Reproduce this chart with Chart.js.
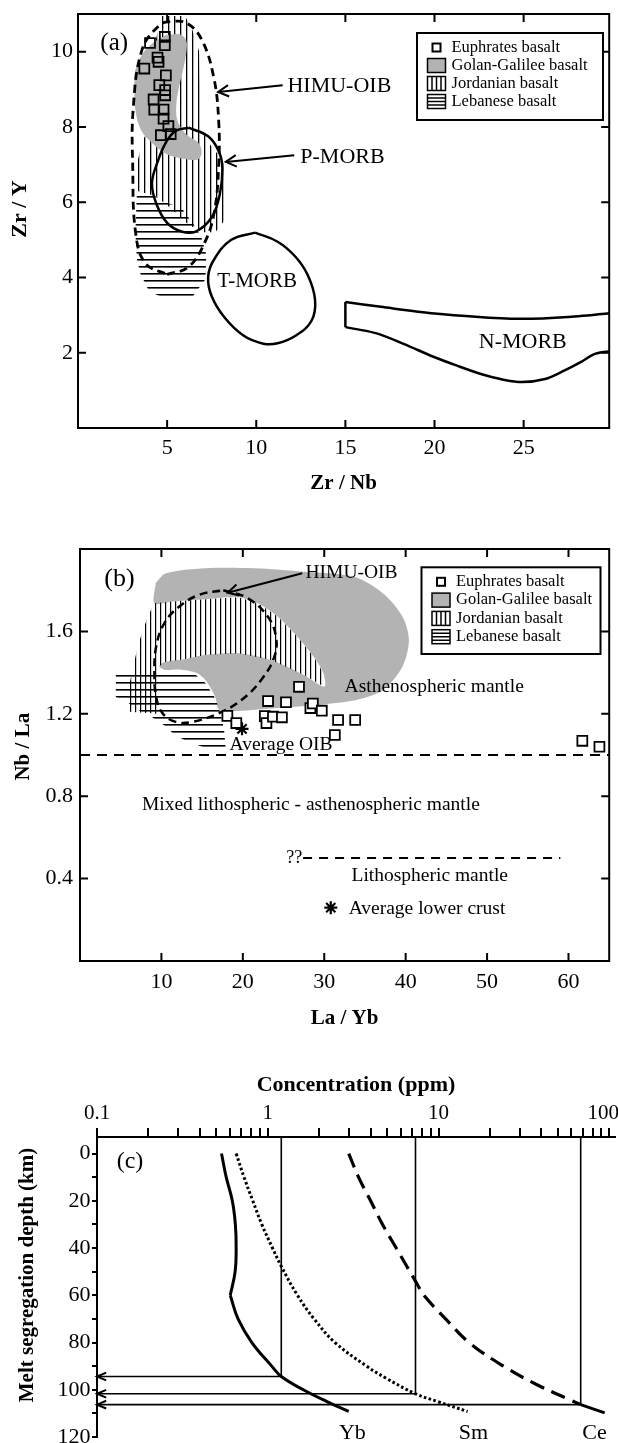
<!DOCTYPE html>
<html><head><meta charset="utf-8">
<script src="https://cdn.jsdelivr.net/npm/chart.js@4.4.1/dist/chart.umd.min.js"></script>
<style>
html,body{margin:0;padding:0;background:#fff}
body{width:618px;height:1443px;position:relative;overflow:hidden}
canvas{position:absolute;left:0}
</style></head><body>
<canvas id="ca" width="618" height="500" style="top:0"></canvas>
<canvas id="cb" width="618" height="535" style="top:500px"></canvas>
<canvas id="cc" width="618" height="403" style="top:1040px"></canvas>
<script>
// ================= DATA =================
// ---- Panel (a): Zr/Nb vs Zr/Y ----
const aXTicks = [5, 10, 15, 20, 25];
const aXTickLabels = ['5', '10', '15', '20', '25'];
const aYTicks = [2, 4, 6, 8, 10];
const aYTickLabels = ['2', '4', '6', '8', '10'];
const euphratesA = [[4.04,10.23],[4.87,10.39],[4.87,10.17],[4.46,9.84],[4.52,9.73],[3.72,9.55],[4.93,9.37],[4.56,9.11],[4.89,8.98],[4.89,8.84],[4.24,8.73],[4.28,8.46],[4.8,8.46],[4.8,8.22],[5.07,8.02],[4.65,7.78],[5.2,7.81]];
const golanA = [[4.93,10.44],[5.67,10.46],[6.07,10.3],[6.07,9.95],[5.89,9.51],[5.67,9.06],[5.52,8.62],[5.57,8.18],[6.04,7.82],[6.78,7.56],[6.93,7.29],[6.68,7.13],[5.85,7.16],[4.93,7.29],[4.18,7.56],[3.54,7.91],[3.22,8.44],[3.17,9.06],[3.22,9.51],[3.63,9.95],[4.18,10.22],[4.93,10.44]];
const jordanA = [[4.7,10.95],[6.0,10.95],[6.4,10.6],[6.8,10.0],[6.85,9.0],[6.9,8.0],[7.3,7.6],[7.8,7.3],[8.35,6.9],[8.4,6.2],[8.2,5.5],[7.7,5.2],[7.0,5.2],[6.2,5.4],[5.3,5.8],[4.4,6.15],[3.35,6.3],[3.25,6.9],[3.6,7.6],[4.0,8.0],[4.0,9.0],[4.2,10.0],[4.7,10.95]];
const lebanonA = [[3.3,6.2],[4.0,6.25],[4.9,6.0],[5.8,5.85],[6.5,5.4],[6.9,5.1],[7.2,4.6],[7.15,3.95],[6.6,3.6],[6.4,3.47],[4.9,3.45],[4.0,3.62],[3.5,4.1],[3.3,4.5],[3.22,5.2],[3.3,6.2]];
const himuA = [[5.0,4.08],[6.2,4.28],[7.08,4.9],[7.63,5.7],[7.89,6.94],[7.89,8.18],[7.61,9.33],[6.96,10.3],[6.13,10.75],[5.2,10.8],[4.56,10.7],[3.6,10.06],[3.1,8.5],[3.07,6.94],[3.24,5.16],[3.79,4.37],[5.0,4.08]];
const pmorbA = [[6.2,7.98],[7.3,7.75],[7.9,7.35],[8.1,6.9],[7.95,6.2],[7.5,5.6],[6.6,5.22],[5.8,5.22],[5.0,5.45],[4.4,5.95],[4.15,6.5],[4.45,7.05],[4.95,7.6],[5.5,7.9],[6.2,7.98]];
const tmorbA = [[9.94,5.19],[11.2,4.95],[12.2,4.55],[12.9,4.05],[13.3,3.4],[13.1,2.85],[12.2,2.45],[11.2,2.25],[10.4,2.24],[9.3,2.45],[8.2,2.95],[7.5,3.5],[7.3,4.0],[7.6,4.45],[8.6,5.0],[9.94,5.19]];
const nmorbTopA = [[15,3.35],[17,3.22],[20,3.04],[22.5,2.95],[24.9,2.9],[27.5,2.95],[30.5,3.08]];
const nmorbSideA = [[15,3.35],[15,2.68]];
const nmorbBottomA = [[15,2.68],[16.7,2.52],[18.3,2.23],[19.9,1.9],[21.3,1.65],[22.7,1.42],[23.7,1.3],[24.9,1.22],[26.2,1.3],[27.3,1.53],[28.2,1.75],[29,1.97],[29.9,2.04],[30.5,2.05]];
const arrowHimuA = [[11.48,9.11],[7.86,8.93]];
const arrowPmorbA = [[12.13,7.25],[8.29,7.07]];

// ---- Panel (b): La/Yb vs Nb/La ----
const bXTicks = [10, 20, 30, 40, 50, 60];
const bXTickLabels = ['10', '20', '30', '40', '50', '60'];
const bYTicks = [0.4, 0.8, 1.2, 1.6];
const bYTickLabels = ['0.4', '0.8', '1.2', '1.6'];
const euphratesB = [[18.1,1.19],[19.2,1.155],[22.7,1.189],[22.9,1.155],[23.1,1.262],[23.7,1.186],[24.8,1.183],[25.3,1.256],[26.9,1.331],[28.3,1.228],[28.6,1.25],[29.7,1.215],[31.3,1.097],[31.7,1.17],[33.8,1.17],[61.7,1.069],[63.8,1.04]];
const golanB = [[9.3,1.835],[10.56,1.882],[15.4,1.907],[21.45,1.907],[27.5,1.89],[33.56,1.866],[37.2,1.785],[39.6,1.672],[40.4,1.558],[39.6,1.429],[37.2,1.315],[33.96,1.267],[29.5,1.245],[23.5,1.226],[17.2,1.218],[16.6,1.283],[15.4,1.364],[14.2,1.4],[12.2,1.415],[10.5,1.413],[9.75,1.43],[10.3,1.45],[12.57,1.463],[15.4,1.485],[19.43,1.494],[23.46,1.461],[27.5,1.388],[30.0,1.331],[29.9,1.397],[28.7,1.477],[26.7,1.574],[24.27,1.672],[21.85,1.737],[19.43,1.766],[15.4,1.756],[11.36,1.745],[9.14,1.737],[9.3,1.835]];
const jordanB = [[9.14,1.737],[11.36,1.745],[15.4,1.756],[19.43,1.766],[21.85,1.737],[24.27,1.672],[26.7,1.574],[28.7,1.477],[29.9,1.397],[30.0,1.331],[27.5,1.388],[23.46,1.461],[19.43,1.494],[15.4,1.485],[12.57,1.463],[10.3,1.45],[9.75,1.43],[9.7,1.3],[9.5,1.2],[6.0,1.21],[5.8,1.3],[6.4,1.4],[7.1,1.53],[8.3,1.67],[9.14,1.737]];
const lebanonB = [[4.4,1.39],[9.8,1.4],[12.2,1.405],[14.2,1.39],[15.4,1.35],[16.6,1.275],[17.3,1.2],[17.7,1.12],[17.9,1.03],[15.7,1.03],[12.9,1.07],[11.4,1.105],[10.5,1.14],[8.6,1.19],[7.1,1.22],[5.7,1.26],[4.4,1.28],[4.4,1.39]];
const himuB = [[17.6,1.8],[20.6,1.761],[23.06,1.672],[24.07,1.574],[23.87,1.477],[22.25,1.364],[19.83,1.267],[17.0,1.202],[13.78,1.161],[11.77,1.161],[10.15,1.202],[9.35,1.283],[9.14,1.397],[9.35,1.526],[10.35,1.639],[12.17,1.72],[14.6,1.777],[17.6,1.8]];
const arrowHimuB = [[27.3,1.882],[18.14,1.788]];
const oibLimitB = [[0,1.0],[65,1.0]];
const lithLimitB = [[27.4,0.5],[59,0.5]];
const avgOIB = [[19.9,1.127]];
const avgLowerCrust = [[30.8,0.259]];

// ---- Panel (c): concentration (ppm) vs melt segregation depth (km) ----
const concMajor = [0.1, 1, 10, 100];
const concMajorLabels = ['0.1', '1', '10', '100'];
const concSteps = [1, 2, 3, 4, 5, 6, 7, 8, 9];
const depthTicks = [0,10,20,30,40,50,60,70,80,90,100,110,120];
const depthLabels = [0,20,40,60,80,100,120];
// [depth, concentration]
const ybUpper = [[0,0.536],[10,0.571],[20,0.62],[30,0.646],[40,0.653],[50,0.644],[60,0.603]];
const ybLower = [[60,0.603],[70,0.67],[80,0.807],[90,1.055],[94.4,1.2],[100,1.615],[105,2.22],[109.2,2.98]];
const smCurve = [[0,0.653],[10,0.726],[20,0.817],[30,0.923],[40,1.066],[48,1.205],[60,1.492],[70,1.867],[80,2.476],[90,3.79],[95,4.9],[101.7,7.33],[105,9.89],[109.2,14.8]];
const ceCurve = [[0,2.98],[10,3.4],[20,4.0],[30,4.7],[40,5.65],[55,7.46],[60,8.2],[70,11.0],[80,15.1],[90,24],[98,38],[104.2,58.6],[106.3,68]];
const ceTail = [[106.3,68],[109.8,94]];
// segregation readings [concentration, depth]
const ybRead = [1.2, 94.4];
const smRead = [7.33, 101.7];
const ceRead = [68, 106.3];
const elementNames = ['Yb', 'Sm', 'Ce'];
const elementLabelConc = [3.13, 16, 82];

const legendLabels = ['Euphrates basalt', 'Golan-Galilee basalt', 'Jordanian basalt', 'Lebanese basalt'];
const legendKinds = ['square', 'grey', 'vert', 'horiz'];

// ================= HELPERS =================
const FONT = "'Liberation Serif','Times New Roman',serif";
const GREY = '#b3b3b3';
Chart.defaults.font.family = FONT;
Chart.defaults.color = '#000';

const xy = a => a.map(p => ({x: p[0], y: p[1]}));
const dc = a => a.map(p => ({x: p[1], y: p[0]}));
function lineDs(data, o) {
  return Object.assign({data, showLine: true, pointRadius: 0, pointHoverRadius: 0, pointHitRadius: 0,
    borderColor: '#000', borderWidth: 2.5, tension: 0.4, fill: false, backgroundColor: 'transparent'}, o || {});
}
function areaDs(data, bg, o) {
  return lineDs(data, Object.assign({borderWidth: 0, borderColor: 'transparent', backgroundColor: bg, fill: 'shape', tension: 0}, o || {}));
}
function pattern(ctx, dir, gap, lw) {
  const c = document.createElement('canvas');
  c.width = dir === 'v' ? gap : 4; c.height = dir === 'v' ? 4 : gap;
  const g = c.getContext('2d');
  g.fillStyle = '#000';
  if (dir === 'v') g.fillRect(0, 0, lw, c.height); else g.fillRect(0, 0, c.width, lw);
  return ctx.createPattern(c, 'repeat');
}
function zeroPad(s) { s.paddingLeft = 0; s.paddingRight = 0; s.paddingTop = 0; s.paddingBottom = 0; }
const fitW = w => s => { s.width = w; zeroPad(s); };
const fitH = h => s => { s.height = h; zeroPad(s); };
const fixTicks = vals => s => { s.ticks = vals.map(v => ({value: v})); };

function head(ctx, x1, y1, x2, y2, len, ang) {
  const a = Math.atan2(y2 - y1, x2 - x1);
  ctx.beginPath();
  ctx.moveTo(x2 - len * Math.cos(a - ang), y2 - len * Math.sin(a - ang));
  ctx.lineTo(x2, y2);
  ctx.lineTo(x2 - len * Math.cos(a + ang), y2 - len * Math.sin(a + ang));
  ctx.stroke();
}

function deco(cfg) {
  return {
    id: 'deco',
    afterDatasetsDraw(chart) {
      const {ctx, scales: {x, y}} = chart;
      ctx.save();
      ctx.strokeStyle = '#000'; ctx.fillStyle = '#000'; ctx.lineCap = 'butt';
      (cfg.heads || []).forEach(h => {
        ctx.lineWidth = h.w;
        head(ctx, x.getPixelForValue(h.from[0]), y.getPixelForValue(h.from[1]),
                  x.getPixelForValue(h.to[0]), y.getPixelForValue(h.to[1]), h.len, h.ang);
      });
      ctx.textBaseline = 'middle';
      (cfg.texts || []).forEach(t => {
        ctx.font = (t.bold ? 'bold ' : '') + t.size + 'px ' + FONT;
        ctx.textAlign = t.align || 'center';
        ctx.fillText(t.t, x.getPixelForValue(t.x) + (t.dx || 0), y.getPixelForValue(t.y));
      });
      ctx.restore();
    },
    afterDraw(chart) {
      const {ctx, chartArea: a, scales: {x, y}} = chart;
      ctx.save();
      ctx.strokeStyle = '#000'; ctx.fillStyle = '#000';
      if (cfg.frame) {
        ctx.lineWidth = 2;
        ctx.strokeRect(a.left, a.top, a.right - a.left, a.bottom - a.top);
        const L = cfg.frame.len;
        ctx.beginPath();
        cfg.frame.xt.forEach(v => { const p = x.getPixelForValue(v);
          ctx.moveTo(p, a.bottom); ctx.lineTo(p, a.bottom - L); ctx.moveTo(p, a.top); ctx.lineTo(p, a.top + L); });
        cfg.frame.yt.forEach(v => { const p = y.getPixelForValue(v);
          ctx.moveTo(a.left, p); ctx.lineTo(a.left + L, p); ctx.moveTo(a.right, p); ctx.lineTo(a.right - L, p); });
        ctx.stroke();
      }
      if (cfg.topLabel) {
        const t = cfg.topLabel;
        ctx.font = t.size + 'px ' + FONT; ctx.textAlign = 'center'; ctx.textBaseline = 'middle';
        ctx.fillText(t.t, x.getPixelForValue(t.x) + t.dx, a.top - t.dy);
      }
      if (cfg.legend) {
        const Lg = cfg.legend;
        ctx.fillStyle = '#fff'; ctx.fillRect(Lg.x, Lg.y, Lg.w, Lg.h);
        ctx.lineWidth = 2; ctx.strokeRect(Lg.x, Lg.y, Lg.w, Lg.h);
        ctx.font = Lg.size + 'px ' + FONT; ctx.textBaseline = 'middle'; ctx.textAlign = 'left';
        legendKinds.forEach((k, i) => {
          const cy = Lg.y + Lg.row0 + i * Lg.step;
          const pw = 18, ph = 14, px = Lg.x + 10.5, py = cy - ph / 2;
          ctx.lineWidth = 1.5;
          if (k === 'square') { ctx.lineWidth = 2; ctx.strokeRect(px + pw / 2 - 4, cy - 4, 8, 8); }
          else {
            if (k === 'grey') { ctx.fillStyle = GREY; ctx.fillRect(px, py, pw, ph); }
            ctx.strokeRect(px, py, pw, ph);
            ctx.beginPath();
            if (k === 'vert') for (let j = 1; j < 4; j++) { ctx.moveTo(px + j * pw / 4, py); ctx.lineTo(px + j * pw / 4, py + ph); }
            if (k === 'horiz') for (let j = 1; j < 4; j++) { ctx.moveTo(px, py + j * ph / 4); ctx.lineTo(px + pw, py + j * ph / 4); }
            ctx.stroke();
          }
          ctx.fillStyle = '#000';
          ctx.fillText(legendLabels[i], Lg.x + 34.5, cy);
        });
      }
      if (cfg.yTitle) {
        const t = cfg.yTitle;
        ctx.translate(t.x, t.y); ctx.rotate(-Math.PI / 2);
        ctx.font = 'bold ' + t.size + 'px ' + FONT; ctx.textAlign = 'center'; ctx.textBaseline = 'middle';
        ctx.fillStyle = '#000';
        ctx.fillText(t.t, 0, 0);
      }
      ctx.restore();
    }
  };
}
const baseOpts = {responsive: false, animation: false, events: [], devicePixelRatio: 1,
  plugins: {legend: {display: false}, tooltip: {enabled: false}}};

// ================= PANEL (a) =================
const ctxA = document.getElementById('ca').getContext('2d');
const vPatA = pattern(ctxA, 'v', 6, 1.3), hPatA = pattern(ctxA, 'h', 7, 1.6);
new Chart(ctxA, {
  type: 'scatter',
  data: {datasets: [
    {data: xy(euphratesA), pointStyle: 'rect', pointRadius: 7, pointHoverRadius: 7, borderWidth: 1.8, borderColor: '#000', backgroundColor: 'transparent'},
    lineDs(xy(arrowHimuA), {borderWidth: 2, tension: 0}),
    lineDs(xy(arrowPmorbA), {borderWidth: 2, tension: 0}),
    lineDs(xy(pmorbA), {borderWidth: 2.5}),
    lineDs(xy(himuA), {borderWidth: 2.8, borderDash: [8, 5]}),
    lineDs(xy(tmorbA), {borderWidth: 2.5}),
    lineDs(xy(nmorbTopA), {borderWidth: 2.5, tension: 0.3}),
    lineDs(xy(nmorbSideA), {borderWidth: 2.5, tension: 0}),
    lineDs(xy(nmorbBottomA), {borderWidth: 2.5, tension: 0.3}),
    areaDs(xy(golanA), GREY, {tension: 0.35}),
    areaDs(xy(jordanA), vPatA),
    areaDs(xy(lebanonA), hPatA)
  ]},
  options: Object.assign({}, baseOpts, {
    layout: {padding: {left: 0, right: 3, top: 14, bottom: 0}},
    scales: {
      x: {type: 'linear', min: 0, max: 29.8, afterBuildTicks: fixTicks(aXTicks), afterFit: fitH(72),
        grid: {display: false, drawTicks: false, tickLength: 0}, border: {display: false},
        ticks: {padding: 7, font: {size: 22}, maxRotation: 0, autoSkip: false, callback: (v, i) => aXTickLabels[i]},
        title: {display: true, text: 'Zr / Nb', font: {size: 21, weight: 'bold'}, padding: {top: 0, bottom: 4}}},
      y: {type: 'linear', min: 0, max: 11, afterBuildTicks: fixTicks(aYTicks), afterFit: fitW(78),
        grid: {display: false, drawTicks: false, tickLength: 0}, border: {display: false},
        ticks: {padding: 5, font: {size: 22}, autoSkip: false, callback: (v, i) => aYTickLabels[i]}}
    }
  }),
  plugins: [deco({
    frame: {xt: aXTicks, yt: aYTicks, len: 8},
    heads: [{from: arrowHimuA[0], to: arrowHimuA[1], len: 12, ang: 0.5, w: 2},
            {from: arrowPmorbA[0], to: arrowPmorbA[1], len: 12, ang: 0.5, w: 2}],
    texts: [
      {t: '(a)', x: 2.03, y: 10.23, size: 25},
      {t: 'HIMU-OIB', x: 11.75, y: 9.09, size: 22, align: 'left'},
      {t: 'P-MORB', x: 12.47, y: 7.2, size: 22, align: 'left'},
      {t: 'T-MORB', x: 10.05, y: 3.88, size: 21},
      {t: 'N-MORB', x: 24.95, y: 2.28, size: 22}
    ],
    legend: {x: 417, y: 33, w: 186, h: 87, size: 16.5, row0: 14.5, step: 18},
    yTitle: {t: 'Zr / Y', x: 20.5, y: 209, size: 22}
  })]
});

// ================= PANEL (b) =================
const ctxB = document.getElementById('cb').getContext('2d');
const vPatB = pattern(ctxB, 'v', 5, 1.2), hPatB = pattern(ctxB, 'h', 7, 1.6);
new Chart(ctxB, {
  type: 'scatter',
  data: {datasets: [
    {data: xy(euphratesB), pointStyle: 'rect', pointRadius: 7, pointHoverRadius: 7, borderWidth: 1.8, borderColor: '#000', backgroundColor: '#fff'},
    {data: xy(avgOIB), pointStyle: 'star', pointRadius: 6.5, pointHoverRadius: 6.5, borderWidth: 2.2, borderColor: '#000'},
    {data: xy(avgLowerCrust), pointStyle: 'star', pointRadius: 6.5, pointHoverRadius: 6.5, borderWidth: 2.2, borderColor: '#000'},
    lineDs(xy(arrowHimuB), {borderWidth: 2, tension: 0}),
    lineDs(xy(himuB), {borderWidth: 2.5, borderDash: [8, 5]}),
    lineDs(xy(oibLimitB), {borderWidth: 2.2, borderDash: [10, 7], tension: 0}),
    lineDs(xy(lithLimitB), {borderWidth: 2, borderDash: [9, 7], tension: 0}),
    areaDs(xy(lebanonB), hPatB),
    areaDs(xy(jordanB), vPatB),
    areaDs(xy(golanB), GREY, {tension: 0.3})
  ]},
  options: Object.assign({}, baseOpts, {
    layout: {padding: {left: 0, right: 3, top: 49, bottom: 0}},
    scales: {
      x: {type: 'linear', min: 0, max: 65, afterBuildTicks: fixTicks(bXTicks), afterFit: fitH(74),
        grid: {display: false, drawTicks: false, tickLength: 0}, border: {display: false},
        ticks: {padding: 8, font: {size: 22}, maxRotation: 0, autoSkip: false, callback: (v, i) => bXTickLabels[i]},
        title: {display: true, text: 'La / Yb', font: {size: 21, weight: 'bold'}, padding: {top: 0, bottom: 4}}},
      y: {type: 'linear', min: 0, max: 2.0, afterBuildTicks: fixTicks(bYTicks), afterFit: fitW(80),
        grid: {display: false, drawTicks: false, tickLength: 0}, border: {display: false},
        ticks: {padding: 7, font: {size: 22}, autoSkip: false, callback: (v, i) => bYTickLabels[i]}}
    }
  }),
  plugins: [deco({
    frame: {xt: bXTicks, yt: bYTicks, len: 8},
    heads: [{from: arrowHimuB[0], to: arrowHimuB[1], len: 12, ang: 0.5, w: 2}],
    texts: [
      {t: '(b)', x: 4.84, y: 1.853, size: 26},
      {t: 'HIMU-OIB', x: 27.7, y: 1.883, size: 19.5, align: 'left'},
      {t: 'Asthenospheric mantle', x: 32.5, y: 1.331, size: 19.5, align: 'left'},
      {t: 'Average OIB', x: 18.37, y: 1.048, size: 19.5, align: 'left'},
      {t: 'Mixed lithospheric - asthenospheric mantle', x: 7.6, y: 0.757, size: 19.5, align: 'left'},
      {t: '??', x: 27.3, y: 0.5, size: 18, align: 'right'},
      {t: 'Lithospheric mantle', x: 33.35, y: 0.412, size: 19.5, align: 'left'},
      {t: 'Average lower crust', x: 33.0, y: 0.255, size: 19.5, align: 'left'}
    ],
    legend: {x: 421.5, y: 67.3, w: 179, h: 86.7, size: 16.5, row0: 14.5, step: 18.3},
    yTitle: {t: 'Nb / La', x: 23.7, y: 246.7, size: 21}
  })]
});

// ================= PANEL (c) =================
const ctxC = document.getElementById('cc').getContext('2d');
const concTicks = concMajor.slice(0, 3).flatMap(d => concSteps.map(k => +(d * k).toPrecision(3))).concat([concMajor[3]]);
const readLines = [ybRead, smRead, ceRead];
const vertDs = readLines.map(r => lineDs([{x: r[0], y: -7}, {x: r[0], y: r[1]}], {borderWidth: 1.6, tension: 0}));
const horDs = readLines.map(r => lineDs([{x: r[0], y: r[1]}, {x: concMajor[0], y: r[1]}], {borderWidth: 1.6, tension: 0}));
const lastMajor = concMajor.length - 1;
new Chart(ctxC, {
  type: 'scatter',
  data: {datasets: [
    lineDs(dc(ybUpper), {borderWidth: 3}),
    lineDs(dc(ybLower), {borderWidth: 3}),
    lineDs(dc(smCurve), {borderWidth: 3, borderDash: [2.6, 2.4]}),
    lineDs(dc(ceCurve), {borderWidth: 3.2, borderDash: [15, 8]}),
    lineDs(dc(ceTail), {borderWidth: 3, tension: 0})
  ].concat(vertDs, horDs)},
  options: Object.assign({}, baseOpts, {
    layout: {padding: {left: 0, right: 3, top: 0, bottom: 6}},
    scales: {
      x: {type: 'logarithmic', position: 'top', min: 0.1, max: 108, afterBuildTicks: fixTicks(concTicks), afterFit: fitH(97),
        grid: {display: true, drawOnChartArea: false, drawTicks: true, tickLength: 9, lineWidth: 2, color: '#000'},
        border: {display: true, width: 2, color: '#000'},
        ticks: {padding: 2, font: {size: 21}, maxRotation: 0, autoSkip: false,
          // the last major label sits against the page edge; it is drawn by the deco plugin below
          callback: v => { const i = concMajor.indexOf(v); return (i >= 0 && i < lastMajor) ? concMajorLabels[i] : ''; }},
        title: {display: true, text: 'Concentration (ppm)', font: {size: 22, weight: 'bold'}, padding: {top: 31.8, bottom: 0}}},
      y: {type: 'linear', reverse: true, min: -7, max: 120, afterBuildTicks: fixTicks(depthTicks), afterFit: fitW(97),
        grid: {display: true, drawOnChartArea: false, drawTicks: true, tickLength: 5, lineWidth: 2, color: '#000'},
        border: {display: true, width: 2, color: '#000'},
        ticks: {padding: 1.5, font: {size: 22}, autoSkip: false,
          callback: v => depthLabels.indexOf(v) >= 0 ? String(v) : ''}}
    }
  }),
  plugins: [deco({
    heads: readLines.map(r => ({from: [r[0], r[1]], to: [concMajor[0], r[1]], len: 10, ang: 0.4, w: 2})),
    texts: [{t: '(c)', x: 0.156, y: 3.6, size: 24}].concat(
      elementNames.map((n, i) => ({t: n, x: elementLabelConc[i], y: 118.4, size: 22}))),
    topLabel: {t: concMajorLabels[lastMajor], x: concMajor[lastMajor], dx: -6, dy: 23.6, size: 21},
    yTitle: {t: 'Melt segregation depth (km)', x: 28, y: 235, size: 21}
  })]
});
</script></body></html>
